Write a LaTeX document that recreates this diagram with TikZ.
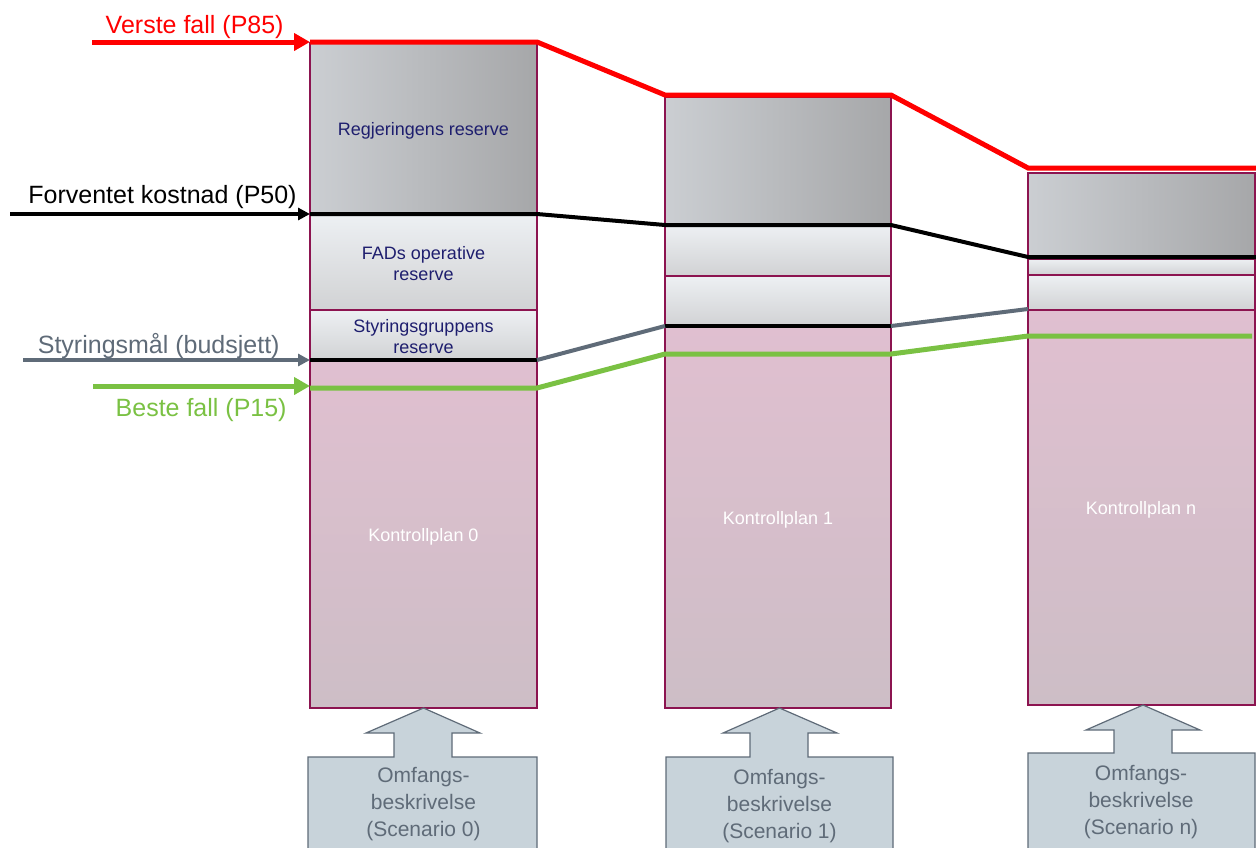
\documentclass[tikz,border=0pt]{standalone}
\usepackage{fontspec}
\setmainfont{Liberation Sans}
\usetikzlibrary{arrows.meta}
\definecolor{plumline}{RGB}{140,20,80}
\definecolor{grayL}{RGB}{203,206,210}
\definecolor{grayR}{RGB}{166,167,169}
\definecolor{midT}{RGB}{237,240,243}
\definecolor{midB}{RGB}{209,210,212}
\definecolor{pinkT}{RGB}{224,191,208}
\definecolor{pinkB}{RGB}{205,190,198}
\definecolor{navytext}{RGB}{30,30,110}
\definecolor{slate}{RGB}{95,107,120}
\definecolor{leaf}{RGB}{122,193,67}
\definecolor{scopefill}{RGB}{200,211,218}
\tikzset{
  topbox/.style={draw=plumline,line width=0.6pt,left color=grayL,right color=grayR},
  midbox/.style={draw=plumline,line width=0.6pt,top color=midT,bottom color=midB},
  planbox/.style={draw=plumline,line width=0.6pt,top color=pinkT,bottom color=pinkB},
  scopearrow/.style={draw=slate,line width=0.6pt,fill=scopefill},
  redlvl/.style={draw=red,line width=2.5pt},
  blacklvl/.style={draw=black,line width=2pt},
  graylvl/.style={draw=slate,line width=2pt},
  greenlvl/.style={draw=leaf,line width=2.5pt},
  bigtip/.style={-{Triangle[length=8pt,width=8.5pt]}},
  smalltip/.style={-{Triangle[length=6pt,width=6pt]}},
  lvllabel/.style={font=\fontsize{12.5}{14}\selectfont,anchor=base east,inner sep=0pt},
  boxtxt/.style={font=\fontsize{9}{10.5}\selectfont,text=navytext,align=center},
  plantxt/.style={font=\fontsize{9}{10.5}\selectfont,text=white},
  scopetxt/.style={font=\fontsize{10.5}{13.5}\selectfont,text=slate,align=center}
}
\begin{document}
\begin{tikzpicture}[x=0.5pt,y=-0.5pt,line join=miter]
  \useasboundingbox (0,0) rectangle (1256,847);
  \clip (0,0) rectangle (1256,847);

  % column 0
  \draw[topbox] (310,43) rectangle (537,214);
  \draw[midbox] (310,214) rectangle (537,310);
  \draw[midbox] (310,310) rectangle (537,360);
  \draw[planbox] (310,360) rectangle (537,708);
  \node[boxtxt] (rr0) at (423.5,131) {Regjeringens reserve};
  \node[boxtxt] (fad0) at (423.5,263.5) {FADs operative\\reserve};
  \node[boxtxt] (sg0) at (423.5,337) {Styringsgruppens\\reserve};
  \node[plantxt] (kp0) at (423.5,537) {Kontrollplan 0};

  % column 1
  \draw[topbox] (665,97) rectangle (891,225);
  \draw[midbox] (665,225) rectangle (891,276);
  \draw[midbox] (665,276) rectangle (891,326);
  \draw[planbox] (665,326) rectangle (891,708);
  \node[plantxt] (kp1) at (778,520) {Kontrollplan 1};

  % column n
  \draw[topbox] (1028,173) rectangle (1255,256);
  \draw[midbox] (1028,259) rectangle (1255,275);
  \draw[midbox] (1028,275) rectangle (1255,310);
  \draw[planbox] (1028,310) rectangle (1255,705);
  \node[plantxt] (kpn) at (1141,510) {Kontrollplan n};

  % level coordinates
  \coordinate (p85a) at (310,42);  \coordinate (p85b) at (537,42);
  \coordinate (p85c) at (665,95);  \coordinate (p85d) at (891,95);
  \coordinate (p85e) at (1028,168); \coordinate (p85f) at (1256,168);
  \coordinate (p50a) at (310,214); \coordinate (p50b) at (537,214);
  \coordinate (p50c) at (665,225); \coordinate (p50d) at (891,225);
  \coordinate (p50e) at (1028,257); \coordinate (p50f) at (1256,257);
  \coordinate (buda) at (310,360); \coordinate (budb) at (537,360);
  \coordinate (budc) at (665,326); \coordinate (budd) at (891,326);
  \coordinate (bude) at (1028,309);
  \coordinate (p15a) at (310,388); \coordinate (p15b) at (537,388);
  \coordinate (p15c) at (665,354); \coordinate (p15d) at (891,354);
  \coordinate (p15e) at (1028,336); \coordinate (p15f) at (1252,336);

  % level lines
  \draw[redlvl] (p85a) -- (p85b) -- (p85c) -- (p85d) -- (p85e) -- (p85f);
  \draw[blacklvl] (p50a) -- (p50b) -- (p50c) -- (p50d) -- (p50e) -- (p50f);
  \draw[blacklvl] (buda) -- (budb);
  \draw[blacklvl] (budc) -- (budd);
  \draw[graylvl] (budb) -- (budc);
  \draw[graylvl] (budd) -- (bude);
  \draw[greenlvl] (p15a) -- (p15b) -- (p15c) -- (p15d) -- (p15e) -- (p15f);

  % labels and arrows on the left
  \coordinate (vfstart) at (92,42);
  \coordinate (fkstart) at (10,214);
  \coordinate (smstart) at (23,360);
  \coordinate (bfstart) at (93,386);
  \node[lvllabel,text=red] (vf) at (284,33) {Verste fall (P85)};
  \node[lvllabel,text=black] (fk) at (297,203) {Forventet kostnad (P50)};
  \node[lvllabel,text=slate] (sm) at (280,353) {Styringsmål (budsjett)};
  \node[lvllabel,text=leaf] (bf) at (287,416) {Beste fall (P15)};
  \draw[redlvl,bigtip] (vfstart) -- (p85a);
  \draw[blacklvl,smalltip] (fkstart) -- (p50a);
  \draw[graylvl,smalltip] (smstart) -- (buda);
  \draw[greenlvl,bigtip] (bfstart) -- (310,386);

  % scope arrows
  \draw[scopearrow] (423.5,708) -- (480,733) -- (452,733) -- (452,757) -- (537,757)
    -- (537,870) -- (308,870) -- (308,757) -- (394,757) -- (394,733) -- (366,733) -- cycle;
  \draw[scopearrow] (779.5,708) -- (837,733) -- (808,733) -- (808,757) -- (893,757)
    -- (893,870) -- (666,870) -- (666,757) -- (750,757) -- (750,733) -- (723,733) -- cycle;
  \draw[scopearrow] (1143,705) -- (1200,730) -- (1172,730) -- (1172,753) -- (1255,753)
    -- (1255,870) -- (1028,870) -- (1028,753) -- (1114,753) -- (1114,730) -- (1086,730) -- cycle;
  \node[scopetxt] (om0) at (423.5,804) {Omfangs-\\beskrivelse\\(Scenario 0)};
  \node[scopetxt] (om1) at (779.5,806) {Omfangs-\\beskrivelse\\(Scenario 1)};
  \node[scopetxt] (omn) at (1141,802) {Omfangs-\\beskrivelse\\(Scenario n)};
\end{tikzpicture}
\end{document}
